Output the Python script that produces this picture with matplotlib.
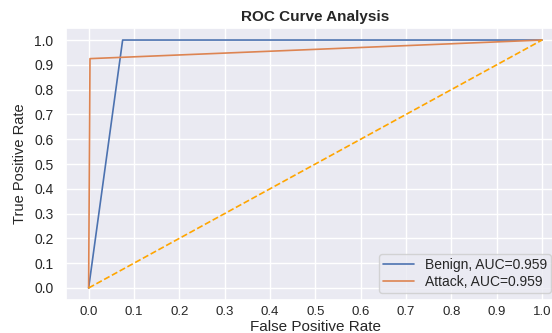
import matplotlib
matplotlib.use("Agg")
import matplotlib.pyplot as plt
import seaborn as sns

sns.set_theme(style="darkgrid")
plt.rcParams['font.family'] = ['Liberation Sans', 'DejaVu Sans']

benign_fpr = [0.0, 0.075, 1.0]
benign_tpr = [0.0, 1.0, 1.0]
attack_fpr = [0.0, 0.003, 1.0]
attack_tpr = [0.0, 0.925, 1.0]
diag = [0.0, 1.0]
ticks = [0.0, 0.1, 0.2, 0.3, 0.4, 0.5, 0.6, 0.7, 0.8, 0.9, 1.0]

fig = plt.figure(figsize=(5.52, 3.33), dpi=100)
ax = fig.add_axes([0.1195, 0.098, 1.023 - 0.1195, 0.917 - 0.098])
ax.plot(benign_fpr, benign_tpr, color='#4C72B0', lw=1.2, label='Benign, AUC=0.959')
ax.plot(attack_fpr, attack_tpr, color='#DD8452', lw=1.2, label='Attack, AUC=0.959')
ax.plot(diag, diag, color='orange', ls='--', lw=1.2)
ax.set_xlim(-0.05, 1.05)
ax.set_ylim(-0.05, 1.05)
ax.set_xticks(ticks)
ax.set_yticks(ticks)
ax.tick_params(axis='x', labelsize=9.5, pad=-2)
ax.tick_params(axis='y', labelsize=10, pad=3)
ax.set_xlabel('False Positive Rate', fontsize=11)
ax.xaxis.set_label_coords(0.5, -0.072)
ax.set_ylabel('True Positive Rate', fontsize=10.5)
ax.yaxis.set_label_coords(-0.079, 0.5)
ax.set_title('ROC Curve Analysis', fontsize=11, fontweight='bold', pad=5)
ax.legend(loc='lower right', fontsize=10, borderaxespad=0,
          bbox_to_anchor=(551 / 552, 40 / 333), bbox_transform=fig.transFigure,
          handlelength=2.2, borderpad=0.3, labelspacing=0.2)
fig.savefig('out.png', dpi=100)
